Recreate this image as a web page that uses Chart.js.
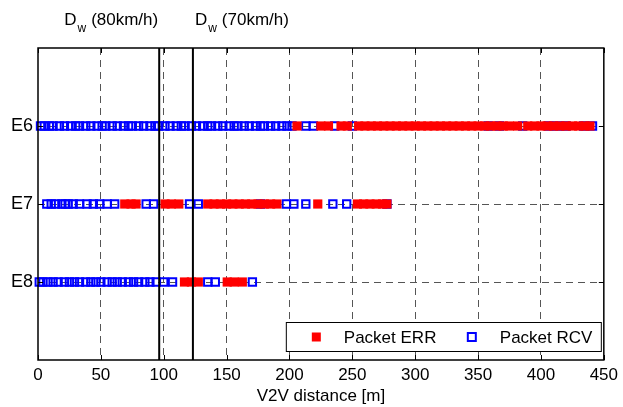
<!DOCTYPE html>
<html>
<head>
<meta charset="utf-8">
<script src="https://cdn.jsdelivr.net/npm/chart.js@4.4.0/dist/chart.umd.min.js"></script>
<style>
  html, body { margin: 0; padding: 0; background: #fff; }
</style>
</head>
<body>
<canvas id="myChart" width="623" height="407"></canvas>
<script>
// rows (experiments) and their slot on the y scale
const rows = ["E6", "E7", "E8"];
const rowPos = [1, 2, 3];
const xTicks = [0, 50, 100, 150, 200, 250, 300, 350, 400, 450];

// warning distance lines [m]
const dwLines = [96.4, 123.2];
const dwLabels = ["(80km/h)", "(70km/h)"];

// packet positions [m]
const e6Err = [206, 225, 231, 241, 246, 255, 260, 265, 270, 275, 280, 285, 290, 295, 300, 305, 310, 315, 320, 325, 330, 335, 340, 345, 350, 355, 360, 365, 370, 375, 381.5, 389.5, 395, 400, 405, 410, 415, 420, 425, 430, 435, 439];
const e6Rcv = [2, 5, 9, 12, 17, 21, 26, 30, 33, 38, 42, 47, 51, 54, 59, 63, 68, 72, 75, 80, 84, 89, 93, 96, 101, 105, 110, 114, 117, 122, 126, 131, 135, 138, 143, 147, 152, 156, 159, 164, 168, 173, 177, 180, 185, 189, 194, 198, 202, 213, 219, 236, 250, 358, 367, 385.5, 406, 413, 420, 434, 441];
const e7Err = [69, 74, 78, 101, 106, 112, 135, 140, 145, 150, 155, 160, 165, 170, 175, 180, 185, 190, 222.5, 254, 259, 264, 269, 274, 277.5];
const e7Rcv = [7, 10.5, 14, 19, 21.5, 24, 28, 33, 39, 44, 49, 55, 61, 86, 92, 120.5, 127.5, 177, 197.5, 203.5, 213, 234.5, 245.5, 277.5];
const e8Err = [116.5, 122, 127.5, 150.5, 156, 162.5];
const e8Rcv = [1, 4, 8, 12, 16, 21, 25, 29, 33, 38, 42, 46, 50, 55, 59, 63, 67, 72, 76, 80, 85, 89, 94, 100, 107, 135, 141, 170.5];

const errData = [];
const rcvData = [];
[e6Err, e7Err, e8Err].forEach((arr, i) => arr.forEach(v => errData.push({x: v, y: rowPos[i]})));
[e6Rcv, e7Rcv, e8Rcv].forEach((arr, i) => arr.forEach(v => rcvData.push({x: v, y: rowPos[i]})));

const FONT = "Liberation Sans, Arial, Helvetica, sans-serif";

const decor = {
  id: "decor",
  afterDatasetsDraw(chart) {
    const ctx = chart.ctx;
    const a = chart.chartArea;
    const x = chart.scales.x;
    const y = chart.scales.y;
    ctx.save();
    ctx.strokeStyle = "#000";
    ctx.lineWidth = 1;
    ctx.beginPath();
    xTicks.forEach(v => {
      const px = Math.round(x.getPixelForValue(v)) + 0.5;
      ctx.moveTo(px, a.bottom); ctx.lineTo(px, a.bottom - 5);
      ctx.moveTo(px, a.top); ctx.lineTo(px, a.top + 5);
    });
    rowPos.forEach(v => {
      const py = Math.round(y.getPixelForValue(v)) + 0.5;
      ctx.moveTo(a.left, py); ctx.lineTo(a.left + 5, py);
      ctx.moveTo(a.right, py); ctx.lineTo(a.right - 5, py);
    });
    ctx.stroke();

    // D_w lines
    ctx.lineWidth = 2;
    ctx.beginPath();
    dwLines.forEach(v => {
      const px = x.getPixelForValue(v);
      ctx.moveTo(px, a.top); ctx.lineTo(px, a.bottom);
    });
    ctx.stroke();

    // axes box
    ctx.lineWidth = 1.5;
    ctx.strokeRect(a.left, a.top, a.right - a.left, a.bottom - a.top);
    ctx.restore();
  },
  afterDraw(chart) {
    const ctx = chart.ctx;
    const a = chart.chartArea;
    const x = chart.scales.x;
    ctx.save();
    ctx.fillStyle = "#000";
    ctx.textBaseline = "alphabetic";

    // D_w labels
    dwLines.forEach((v, i) => {
      const px = x.getPixelForValue(v);
      ctx.font = "17px " + FONT;
      const wD = ctx.measureText("D").width;
      const wT = ctx.measureText(dwLabels[i]).width;
      ctx.font = "12px " + FONT;
      const wW = ctx.measureText("w").width;
      const gap = 5;
      const total = wD + 1 + wW + gap + wT;
      const x0 = i === 0 ? px - 1 - total : px + 2;
      const base = 25;
      ctx.font = "17px " + FONT;
      ctx.fillText("D", x0, base);
      ctx.font = "12px " + FONT;
      ctx.fillText("w", x0 + wD + 1, base + 7);
      ctx.font = "17px " + FONT;
      ctx.fillText(dwLabels[i], x0 + wD + 1 + wW + gap, base);
    });

    // legend inside the plot, bottom right
    const lx = a.right - 318, ly = a.bottom - 38, lw = 315, lh = 29;
    ctx.fillStyle = "#fff";
    ctx.fillRect(lx, ly, lw, lh);
    ctx.strokeStyle = "#000";
    ctx.lineWidth = 1;
    ctx.strokeRect(lx + 0.5, ly + 0.5, lw, lh);
    const cy = ly + lh / 2 + 0.5;
    ctx.fillStyle = "#ff0000";
    ctx.fillRect(lx + 26, cy - 4.5, 9, 9);
    ctx.strokeStyle = "#0000ff";
    ctx.lineWidth = 2;
    ctx.strokeRect(lx + 182, cy - 4, 8, 8);
    ctx.fillStyle = "#000";
    ctx.font = "17px " + FONT;
    ctx.textBaseline = "middle";
    ctx.fillText(chart.data.datasets[0].label, lx + 58, cy + 1);
    ctx.fillText(chart.data.datasets[1].label, lx + 214, cy + 1);
    ctx.restore();
  }
};

new Chart(document.getElementById("myChart"), {
  type: "scatter",
  data: {
    datasets: [
      {
        label: "Packet ERR",
        data: errData,
        pointStyle: "rect",
        pointRadius: 6.5,
        pointBackgroundColor: "#ff0000",
        pointBorderColor: "#ff0000",
        pointBorderWidth: 0,
        clip: false
      },
      {
        label: "Packet RCV",
        data: rcvData,
        pointStyle: "rect",
        pointRadius: 5.2,
        pointBackgroundColor: "rgba(0,0,0,0)",
        pointBorderColor: "#0000ff",
        pointBorderWidth: 2,
        clip: false
      }
    ]
  },
  options: {
    responsive: false,
    animation: false,
    layout: { padding: { top: 48, right: 19, left: 0, bottom: 0 } },
    plugins: { legend: { display: false }, tooltip: { enabled: false } },
    scales: {
      x: {
        type: "linear",
        min: 0,
        max: 450,
        afterFit(s) { s.height = 47; },
        afterBuildTicks(s) { s.ticks = xTicks.map(v => ({value: v})); },
        grid: {
          drawTicks: false,
          lineWidth: 1,
          color: c => (c.tick && (c.tick.value === 0 || c.tick.value === 450)) ? "rgba(0,0,0,0)" : "#555"
        },
        border: { display: false, dash: [7, 5] },
        ticks: { color: "#000", font: { size: 17, family: FONT }, padding: 5, maxRotation: 0 },
        title: { display: true, text: "V2V distance [m]", color: "#000", font: { size: 17, family: FONT }, padding: 0 }
      },
      y: {
        type: "linear",
        min: 0,
        max: 4,
        reverse: true,
        afterFit(s) { s.width = 38; },
        afterBuildTicks(s) { s.ticks = [0, 1, 2, 3, 4].map(v => ({value: v})); },
        grid: {
          drawTicks: false,
          lineWidth: 1,
          color: c => (c.tick && (c.tick.value === 0 || c.tick.value === 4)) ? "rgba(0,0,0,0)" : "#555"
        },
        border: { display: false, dash: [7, 5] },
        ticks: {
          color: "#000",
          font: { size: 18, family: FONT },
          padding: 5,
          callback: v => { const k = rowPos.indexOf(v); return k >= 0 ? rows[k] : ""; }
        }
      }
    }
  },
  plugins: [decor]
});
</script>
</body>
</html>
